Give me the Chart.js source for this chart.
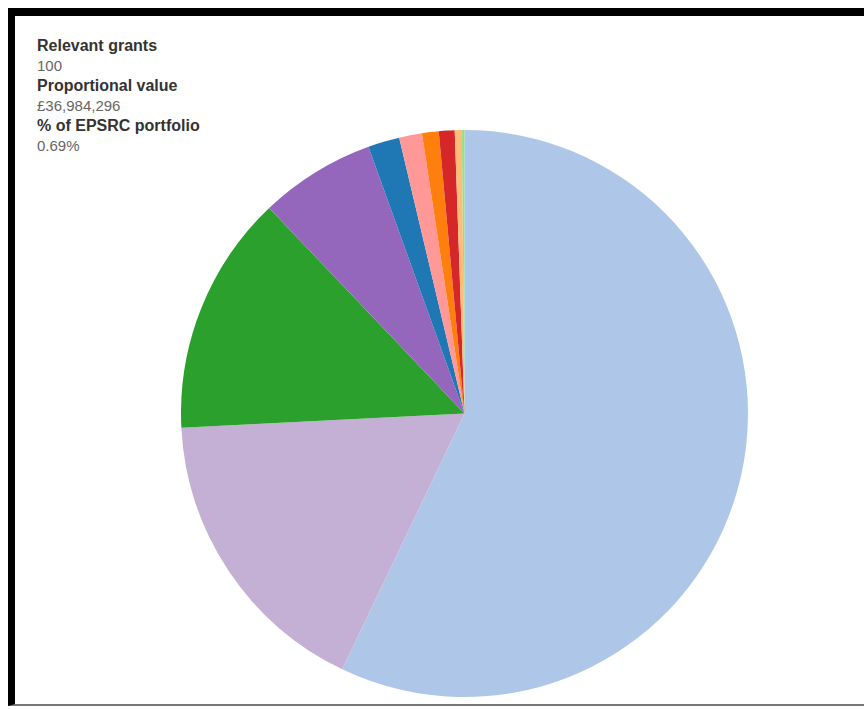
<!DOCTYPE html>
<html>
<head>
<meta charset="utf-8">
<script src="https://cdn.jsdelivr.net/npm/chart.js@4/dist/chart.umd.min.js"></script>
<style>
  html, body { margin: 0; padding: 0; background: #fff; width: 864px; height: 710px; overflow: hidden; }
  #frame { position: absolute; left: 8px; top: 8px; width: 870px; height: 698px;
           border-top: 8px solid #000; border-left: 7px solid #000; border-bottom: 2px solid #777; box-sizing: border-box; }
  #info { position: absolute; left: 37px; top: 36px; font-family: "Liberation Sans", Arial, sans-serif; }
  #info div { height: 20px; line-height: 20px; white-space: nowrap; }
  #info .k { font-weight: bold; font-size: 16px; color: #333; }
  #info .v { font-size: 15px; color: #666; }
  #wrap { position: absolute; left: 181px; top: 130px; width: 567px; height: 567px; }
</style>
</head>
<body>
<div id="frame"></div>
<div id="info"></div>
<div id="wrap"><canvas id="c"></canvas></div>
<script>
// Info panel text
const infoLabels = ["Relevant grants", "Proportional value", "% of EPSRC portfolio"];
const infoValues = ["100", "£36,984,296", "0.69%"];

// Pie data (share of proportional value, %), clockwise from 12 o'clock
const categories = ["Area 1", "Area 2", "Area 3", "Area 4", "Area 5", "Area 6", "Area 7", "Area 8", "Area 9", "Area 10"];
const shares = [57.1, 17.1, 13.7, 6.6, 1.8, 1.3, 0.95, 0.9, 0.4, 0.15];
const colors = ["#aec7e8", "#c5b0d5", "#2ca02c", "#9467bd", "#1f77b4", "#ff9896", "#ff7f0e", "#d62728", "#ffbb78", "#98df8a"];

const info = document.getElementById('info');
infoLabels.forEach((l, i) => {
  const k = document.createElement('div'); k.className = 'k'; k.textContent = l; info.appendChild(k);
  const v = document.createElement('div'); v.className = 'v'; v.textContent = infoValues[i]; info.appendChild(v);
});

new Chart(document.getElementById('c'), {
  type: 'pie',
  data: {
    labels: categories,
    datasets: [{ data: shares, backgroundColor: colors, borderWidth: 0 }]
  },
  options: {
    responsive: true,
    maintainAspectRatio: false,
    animation: false,
    layout: { padding: 0 },
    plugins: { legend: { display: false }, tooltip: { enabled: false } }
  }
});
</script>
</body>
</html>
